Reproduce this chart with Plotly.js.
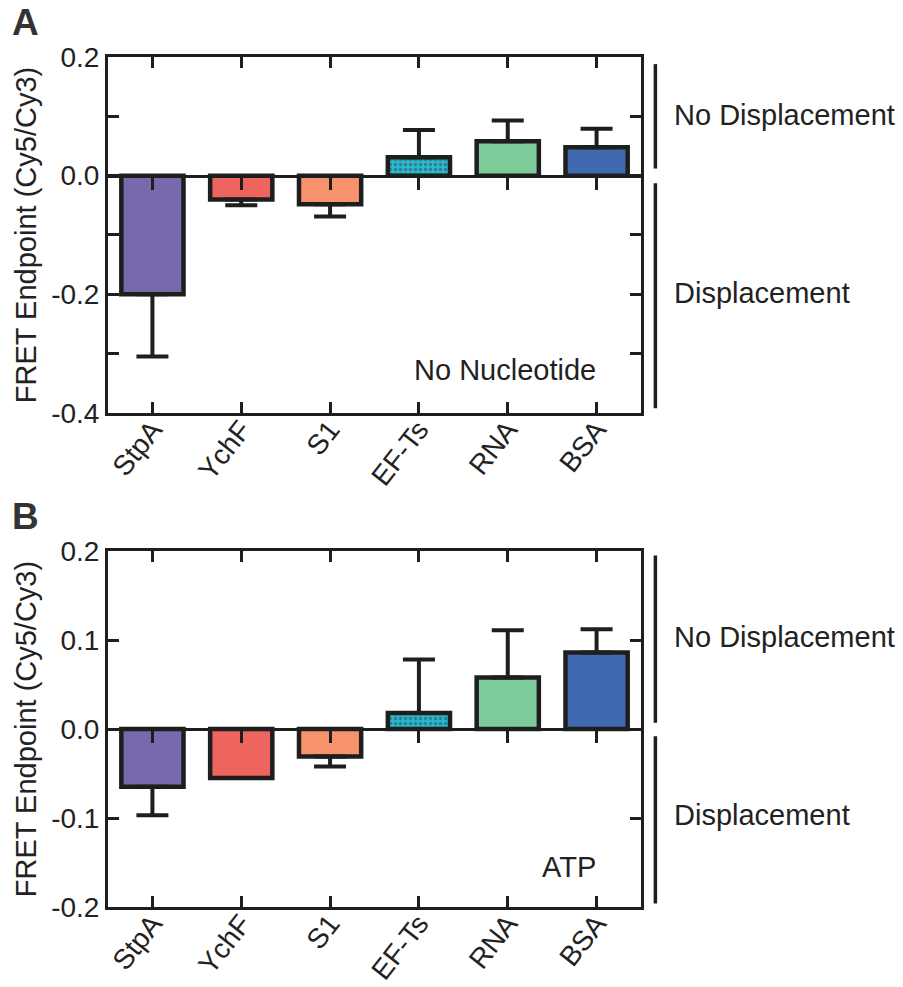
<!DOCTYPE html>
<html>
<head>
<meta charset="utf-8">
<script src="https://cdn.plot.ly/plotly-3.0.1.min.js"></script>
<style>html,body{margin:0;padding:0;background:#fff;}#chart{width:903px;height:987px;}</style>
</head>
<body>
<div id="chart"></div>
<script>
// ---- data ----
const categories = ['StpA', 'YchF', 'S1', 'EF-Ts', 'RNA', 'BSA'];
const colors = ['#7A68AD', '#EE6560', '#F7936C', '#26B8CF', '#7CCB99', '#4169B0'];

// Panel A: No Nucleotide
const valuesA = [-0.200, -0.040, -0.048, 0.031, 0.058, 0.048];
const errA    = [0.105, 0.010, 0.021, 0.046, 0.035, 0.031];

// Panel B: ATP
const valuesB = [-0.065, -0.055, -0.031, 0.018, 0.058, 0.086];
const errB    = [0.032, 0.000, 0.011, 0.060, 0.053, 0.026];

const yTicksA = [-0.4, -0.3, -0.2, -0.1, 0.0, 0.1, 0.2];
const yLabelsA = ['-0.4', '', '-0.2', '', '0.0', '', '0.2'];
const yTicksB = [-0.2, -0.1, 0.0, 0.1, 0.2];
const yLabelsB = ['-0.2', '-0.1', '0.0', '0.1', '0.2'];

const axisTitle = 'FRET Endpoint (Cy5/Cy3)';
const condA = 'No Nucleotide';
const condB = 'ATP';
const upperLabel = 'No Displacement';
const lowerLabel = 'Displacement';

// ---- helpers ----
const INK = '#1e1e1e';
const FONT = 'Liberation Sans, Arial, sans-serif';
const plusArr = (v, e) => v.map((x, i) => x >= 0 ? e[i] : 0);
const minusArr = (v, e) => v.map((x, i) => x < 0 ? e[i] : 0);
const patternShapes = categories.map(c => c === 'EF-Ts' ? '.' : '');

function barTrace(vals, errs, xa, ya) {
  return {
    type: 'bar', x: categories, y: vals, xaxis: xa, yaxis: ya,
    width: 0.7,
    marker: {
      color: colors,
      line: {color: INK, width: 4.5},
      pattern: {shape: patternShapes, fgcolor: '#86d6e2', size: 5, solidity: 0.35, fillmode: 'overlay'}
    },
    error_y: {
      type: 'data', symmetric: false,
      array: plusArr(vals, errs), arrayminus: minusArr(vals, errs),
      color: INK, thickness: 4, width: 16
    },
    hoverinfo: 'skip', showlegend: false
  };
}
function ghostTrace(vals, xa, ya) {
  return {type: 'scatter', mode: 'markers', x: categories, y: vals, xaxis: xa, yaxis: ya,
          marker: {opacity: 0, size: 1}, hoverinfo: 'skip', showlegend: false};
}

const domA = [0.5812, 1.0];
const domB = [0.0, 0.4188];
const zeroA = domA[0] + (0 - (-0.4)) / 0.6 * (domA[1] - domA[0]);
const zeroB = domB[0] + (0 - (-0.2)) / 0.4 * (domB[1] - domB[0]);

const xBase = {
  type: 'category', range: [-0.5, 5.5], categoryorder: 'array', categoryarray: categories,
  showline: true, linecolor: INK, linewidth: 3, mirror: 'ticks',
  ticks: 'inside', ticklen: 11, tickwidth: 3, tickcolor: INK,
  tickangle: -52, tickfont: {family: FONT, size: 28, color: '#222'},
  ticklabelstandoff: -14,
  showgrid: false, zeroline: false, fixedrange: true
};
const yBase = {
  showline: true, linecolor: INK, linewidth: 3, mirror: 'ticks',
  ticks: 'inside', ticklen: 11, tickwidth: 3, tickcolor: INK,
  tickfont: {family: FONT, size: 28, color: '#222'},
  showgrid: false, zeroline: false, fixedrange: true,
  title: {text: axisTitle, font: {family: FONT, size: 29, color: '#222'}, standoff: 6}
};
const xZero = {
  type: 'category', range: [-0.5, 5.5], categoryorder: 'array', categoryarray: categories,
  anchor: 'free', side: 'bottom', showline: true, linecolor: INK, linewidth: 3,
  ticks: 'outside', ticklen: 12, tickwidth: 3, tickcolor: INK,
  showticklabels: false, showgrid: false, zeroline: false, fixedrange: true
};

const shapes = [];
function bracket(yref, y0, y1) {
  shapes.push({type: 'line', xref: 'paper', yref: yref, x0: 1.027, x1: 1.027, y0: y0, y1: y1,
               line: {color: INK, width: 3.5}});
}
bracket('y', 0.188, 0.012);
bracket('y', -0.013, -0.392);
bracket('y2', 0.195, 0.007);
bracket('y2', -0.008, -0.196);

const annFont = {family: FONT, size: 29, color: '#222'};
const annotations = [
  {xref: 'paper', yref: 'y', x: 1.058, y: 0.102, text: upperLabel, showarrow: false, xanchor: 'left', yanchor: 'middle', font: annFont},
  {xref: 'paper', yref: 'y', x: 1.058, y: -0.198, text: lowerLabel, showarrow: false, xanchor: 'left', yanchor: 'middle', font: annFont},
  {xref: 'paper', yref: 'y2', x: 1.058, y: 0.103, text: upperLabel, showarrow: false, xanchor: 'left', yanchor: 'middle', font: annFont},
  {xref: 'paper', yref: 'y2', x: 1.058, y: -0.097, text: lowerLabel, showarrow: false, xanchor: 'left', yanchor: 'middle', font: annFont},
  {xref: 'paper', yref: 'y', x: 0.919, y: -0.328, text: condA, showarrow: false, xanchor: 'right', yanchor: 'middle', font: annFont},
  {xref: 'paper', yref: 'y2', x: 0.919, y: -0.155, text: condB, showarrow: false, xanchor: 'right', yanchor: 'middle', font: annFont},
  {xref: 'paper', yref: 'paper', x: -0.184, y: 1.04, text: '<b>A</b>', showarrow: false, xanchor: 'left', yanchor: 'middle', font: {family: FONT, size: 37, color: '#333'}},
  {xref: 'paper', yref: 'paper', x: -0.184, y: 0.459, text: '<b>B</b>', showarrow: false, xanchor: 'left', yanchor: 'middle', font: {family: FONT, size: 37, color: '#333'}}
];

const layout = {
  width: 903, height: 987,
  margin: {l: 108, r: 262, t: 57, b: 80},
  paper_bgcolor: '#fff', plot_bgcolor: 'rgba(0,0,0,0)',
  showlegend: false, bargap: 0.3,
  xaxis: Object.assign({}, xBase, {anchor: 'y', domain: [0, 1]}),
  yaxis: Object.assign({}, yBase, {anchor: 'x', domain: domA, range: [-0.4, 0.2], tickvals: yTicksA, ticktext: yLabelsA}),
  xaxis2: Object.assign({}, xBase, {anchor: 'y2', domain: [0, 1]}),
  yaxis2: Object.assign({}, yBase, {anchor: 'x2', domain: domB, range: [-0.2, 0.2], tickvals: yTicksB, ticktext: yLabelsB}),
  xaxis3: Object.assign({}, xZero, {overlaying: 'x', position: zeroA}),
  xaxis4: Object.assign({}, xZero, {overlaying: 'x2', position: zeroB}),
  shapes: shapes,
  annotations: annotations
};

const data = [
  barTrace(valuesA, errA, 'x', 'y'),
  barTrace(valuesB, errB, 'x2', 'y2'),
  ghostTrace(valuesA, 'x3', 'y'),
  ghostTrace(valuesB, 'x4', 'y2')
];

Plotly.newPlot('chart', data, layout, {staticPlot: true, displayModeBar: false});
</script>
</body>
</html>
